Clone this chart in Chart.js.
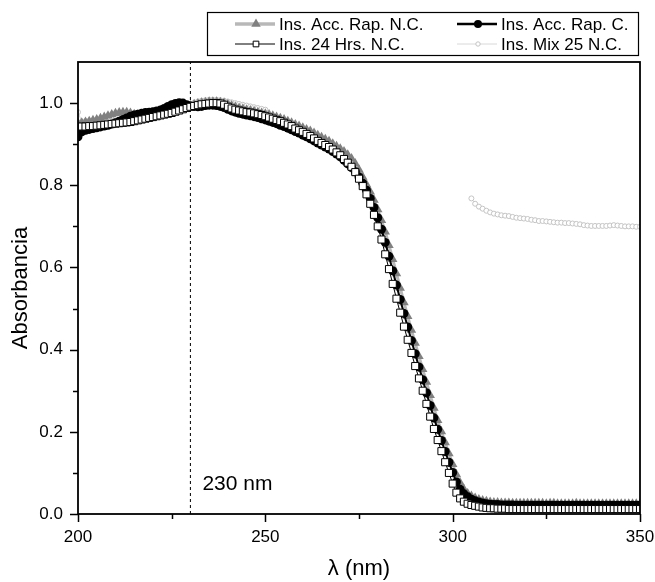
<!DOCTYPE html>
<html>
<head>
<meta charset="utf-8">
<title>Absorbancia</title>
<script src="https://cdn.jsdelivr.net/npm/chart.js@4.4.1/dist/chart.umd.min.js"></script>
<style>
  html, body { margin: 0; padding: 0; background: #fff; }
  #wrap { width: 655px; height: 582px; }
</style>
</head>
<body>
<div id="wrap"><canvas id="chart" width="655" height="582"></canvas></div>
<script>
/* ---- data ---- */
const wavelengths = [
  200,201,202,203,204,205,206,207,208,209,
  210,211,212,213,214,215,216,217,218,219,
  220,221,222,223,224,225,226,227,228,229,
  230,231,232,233,234,235,236,237,238,239,
  240,241,242,243,244,245,246,247,248,249,
  250,251,252,253,254,255,256,257,258,259,
  260,261,262,263,264,265,266,267,268,269,
  270,271,272,273,274,275,276,277,278,279,
  280,281,282,283,284,285,286,287,288,289,
  290,291,292,293,294,295,296,297,298,299,
  300,301,302,303,304,305,306,307,308,309,
  310,311,312,313,314,315,316,317,318,319,
  320,321,322,323,324,325,326,327,328,329,
  330,331,332,333,334,335,336,337,338,339,
  340,341,342,343,344,345,346,347,348,349,
  350
];

// Ins. Acc. Rap. N.C.
const accRapNC = [
  .951,.952,.954,.956,.958,.960,.963,.966,.969,.972,
  .975,.977,.978,.978,.976,.973,.972,.973,.974,.975,
  .976,.977,.978,.979,.980,.981,.983,.985,.988,.991,
  .994,.997,.999,1.001,1.002,1.003,1.003,1.003,1.002,1.000,
  .997,.994,.991,.988,.986,.984,.982,.980,.978,.976,
  .974,.972,.969,.966,.963,.960,.956,.952,.948,.944,
  .940,.936,.932,.927,.922,.917,.912,.907,.901,.895,
  .889,.882,.874,.865,.853,.838,.820,.802,.784,.764,
  .741,.715,.687,.654,.620,.585,.550,.515,.481,.448,
  .416,.384,.352,.321,.289,.258,.228,.201,.174,.147,
  .121,.096,.076,.060,.050,.044,.039,.035,.033,.031,
  .029,.028,.028,.027,.027,.027,.026,.026,.026,.026,
  .026,.026,.026,.026,.026,.025,.026,.026,.025,.025,
  .025,.025,.025,.026,.025,.025,.025,.025,.025,.025,
  .025,.025,.025,.025,.025,.025,.025,.025,.025,.025,
  .025
];

// Ins. Acc. Rap. C.
const accRapC = [
  .918,.930,.934,.936,.938,.940,.942,.944,.946,.949,
  .952,.956,.960,.964,.968,.971,.973,.975,.977,.978,
  .979,.981,.983,.987,.992,.996,.999,1.001,1.000,.996,
  .993,.992,.991,.992,.994,.995,.995,.994,.992,.989,
  .985,.981,.978,.975,.973,.971,.969,.967,.965,.962,
  .959,.956,.953,.950,.946,.943,.939,.935,.931,.927,
  .922,.918,.913,.908,.903,.898,.893,.888,.882,.876,
  .869,.861,.852,.843,.833,.820,.805,.788,.768,.746,
  .721,.693,.661,.627,.592,.557,.522,.488,.455,.422,
  .390,.358,.327,.295,.264,.234,.206,.179,.152,.126,
  .101,.078,.060,.049,.042,.036,.032,.029,.027,.025,
  .024,.023,.023,.022,.022,.022,.022,.021,.021,.021,
  .021,.021,.021,.021,.021,.021,.021,.021,.021,.021,
  .021,.021,.021,.021,.021,.021,.021,.021,.021,.021,
  .021,.021,.021,.021,.021,.021,.021,.021,.021,.021,
  .021
];

// Ins. 24 Hrs. N.C.
const hrs24NC = [
  .942,.943,.943,.944,.944,.945,.946,.947,.948,.949,
  .950,.951,.952,.953,.954,.956,.958,.960,.962,.964,
  .966,.968,.970,.972,.974,.976,.979,.982,.985,.988,
  .991,.993,.995,.997,.998,.999,1.000,1.000,.999,.996,
  .991,.987,.984,.982,.980,.978,.977,.975,.973,.971,
  .968,.965,.962,.959,.956,.952,.948,.944,.938,.934,
  .930,.925,.920,.914,.908,.903,.898,.893,.887,.880,
  .873,.864,.855,.845,.832,.816,.798,.778,.755,.728,
  .700,.668,.632,.596,.560,.524,.490,.456,.424,.392,
  .360,.330,.300,.268,.237,.207,.180,.153,.126,.100,
  .074,.052,.038,.030,.025,.022,.020,.018,.016,.015,
  .014,.014,.013,.013,.013,.012,.012,.012,.012,.012,
  .012,.012,.012,.012,.012,.012,.012,.012,.012,.012,
  .012,.012,.012,.012,.012,.012,.012,.012,.012,.012,
  .012,.012,.012,.012,.012,.012,.012,.012,.012,.012,
  .012
];

// Ins. Mix 25 N.C. (no readings between 251 and 304 nm)
const mix25NC = [
  .978,.955,.956,.957,.958,.959,.960,.962,.964,.966,
  .968,.969,.970,.970,.970,.970,.971,.972,.973,.975,
  .977,.979,.981,.983,.985,.987,.989,.991,.993,.995,
  .998,1.001,1.004,1.006,1.007,1.008,1.008,1.008,1.007,1.006,
  1.004,1.002,1.000,.998,.996,.994,.992,.990,.988,.986,
  .984,null,null,null,null,null,null,null,null,null,
  null,null,null,null,null,null,null,null,null,null,
  null,null,null,null,null,null,null,null,null,null,
  null,null,null,null,null,null,null,null,null,null,
  null,null,null,null,null,null,null,null,null,null,
  null,null,null,null,null,.768,.755,.748,.743,.738,
  .734,.731,.729,.727,.726,.725,.723,.721,.720,.719,
  .718,.716,.715,.713,.713,.712,.711,.710,.709,.709,
  .708,.708,.707,.706,.705,.703,.702,.701,.701,.701,
  .701,.701,.702,.703,.702,.701,.700,.700,.700,.699,
  .699
];

const seriesNames = ['Ins. Acc. Rap. N.C.', 'Ins. Acc. Rap. C.', 'Ins. 24 Hrs. N.C.', 'Ins. Mix 25 N.C.'];

const xTicks = [200, 250, 300, 350];
const xMinorTicks = [225, 275, 325];
const yTicks = [0, 0.2, 0.4, 0.6, 0.8, 1.0];
const yMinorTicks = [0.1, 0.3, 0.5, 0.7, 0.9];

const markerLambda = 230;
const markerLabel = '230 nm';

/* ---- styling ---- */
const FONT = "'Liberation Sans', Arial, Helvetica, sans-serif";
const X_MIN = 200, X_MAX = 350, Y_MIN = 0, Y_MAX = 1.1;

function drawMarker(ctx, style, x, y, r, fill, stroke, lw) {
  ctx.beginPath();
  if (style === 'triangle') {
    ctx.moveTo(x, y - r);
    ctx.lineTo(x + r * 0.866, y + r * 0.5);
    ctx.lineTo(x - r * 0.866, y + r * 0.5);
    ctx.closePath();
  } else if (style === 'rect') {
    const s = r * Math.SQRT1_2;
    ctx.rect(x - s, y - s, 2 * s, 2 * s);
  } else {
    ctx.arc(x, y, r, 0, Math.PI * 2);
  }
  ctx.fillStyle = fill;
  ctx.fill();
  if (lw) {
    ctx.strokeStyle = stroke;
    ctx.lineWidth = lw;
    ctx.stroke();
  }
}

// frame, outward ticks, boxed legend and the 230 nm note
const decorations = {
  id: 'decorations',
  afterDraw(chart) {
    const { ctx, chartArea: area } = chart;
    const xs = chart.scales.x, ys = chart.scales.y;
    ctx.save();

    // annotation text
    ctx.fillStyle = '#000';
    ctx.font = '21px ' + FONT;
    ctx.textAlign = 'left';
    ctx.textBaseline = 'middle';
    ctx.fillText(markerLabel, xs.getPixelForValue(markerLambda) + 12, area.bottom - 30);

    // ticks
    ctx.strokeStyle = '#000';
    ctx.lineWidth = 1.5;
    ctx.beginPath();
    xTicks.forEach(v => { const p = Math.round(xs.getPixelForValue(v)) + 0.5; ctx.moveTo(p, area.bottom); ctx.lineTo(p, area.bottom + 8); });
    xMinorTicks.forEach(v => { const p = Math.round(xs.getPixelForValue(v)) + 0.5; ctx.moveTo(p, area.bottom); ctx.lineTo(p, area.bottom + 5); });
    yTicks.forEach(v => { const p = Math.round(ys.getPixelForValue(v)) + 0.5; ctx.moveTo(area.left, p); ctx.lineTo(area.left - 8, p); });
    yMinorTicks.forEach(v => { const p = Math.round(ys.getPixelForValue(v)) + 0.5; ctx.moveTo(area.left, p); ctx.lineTo(area.left - 5, p); });
    ctx.stroke();

    // frame
    ctx.lineWidth = 1.8;
    ctx.strokeRect(area.left, area.top, area.right - area.left, area.bottom - area.top);

    // legend box
    const box = { x: 207, y: 12, w: 431, h: 43 };
    ctx.fillStyle = '#fff';
    ctx.fillRect(box.x, box.y, box.w, box.h);
    ctx.lineWidth = 1.2;
    ctx.strokeStyle = '#000';
    ctx.strokeRect(box.x + 0.5, box.y + 0.5, box.w, box.h);

    const cols = [235, 457];
    const rows = [24, 44];
    chart.data.datasets.forEach(ds => {
      if (ds.legendSlot === undefined) return;
      const cx = cols[ds.legendSlot % 2];
      const cy = rows[Math.floor(ds.legendSlot / 2)];
      const lg = ds.legendStyle;
      ctx.beginPath();
      ctx.strokeStyle = lg.line;
      ctx.lineWidth = lg.lineWidth;
      ctx.moveTo(cx, cy);
      ctx.lineTo(cx + 40, cy);
      ctx.stroke();
      drawMarker(ctx, ds.pointStyle, cx + 21, cy, lg.r, ds.pointBackgroundColor, ds.pointBorderColor, ds.pointBorderWidth);
      ctx.fillStyle = '#000';
      ctx.font = '17px ' + FONT;
      ctx.textAlign = 'left';
      ctx.textBaseline = 'middle';
      ctx.fillText(ds.label, cx + 44, cy + 1);
    });

    ctx.restore();
  }
};

new Chart(document.getElementById('chart'), {
  type: 'line',
  data: {
    labels: wavelengths,
    datasets: [
      {
        label: seriesNames[0],
        data: accRapNC,
        borderColor: '#b8b8b8',
        borderWidth: 3,
        pointStyle: 'triangle',
        pointRadius: 5.5,
        pointBackgroundColor: '#808080',
        pointBorderColor: '#808080',
        pointBorderWidth: 0,
        order: 3,
        legendSlot: 0,
        legendStyle: { line: '#b8b8b8', lineWidth: 3.5, r: 5.5 }
      },
      {
        label: seriesNames[1],
        data: accRapC,
        borderColor: '#000',
        borderWidth: 2,
        pointStyle: 'circle',
        pointRadius: 4.5,
        pointBackgroundColor: '#000',
        pointBorderColor: '#000',
        pointBorderWidth: 0,
        order: 2,
        legendSlot: 1,
        legendStyle: { line: '#000', lineWidth: 2.5, r: 4 }
      },
      {
        label: seriesNames[2],
        data: hrs24NC,
        borderColor: '#000',
        borderWidth: 1,
        pointStyle: 'rect',
        pointRadius: 5,
        pointBackgroundColor: '#fff',
        pointBorderColor: '#000',
        pointBorderWidth: 1,
        order: 1,
        legendSlot: 2,
        legendStyle: { line: '#000', lineWidth: 1, r: 4 }
      },
      {
        label: seriesNames[3],
        data: mix25NC,
        borderColor: '#d4d4d4',
        borderWidth: 1,
        pointStyle: 'circle',
        pointRadius: 2.5,
        pointBackgroundColor: '#fff',
        pointBorderColor: '#c4c4c4',
        pointBorderWidth: 1,
        spanGaps: false,
        order: 4,
        legendSlot: 3,
        legendStyle: { line: '#d8d8d8', lineWidth: 1, r: 2.2 }
      },
      {
        label: 'marker',
        data: [{ x: markerLambda, y: Y_MIN }, { x: markerLambda, y: Y_MAX }],
        borderColor: '#000',
        borderWidth: 1,
        borderDash: [3, 3],
        pointRadius: 0,
        order: 5
      }
    ]
  },
  options: {
    responsive: false,
    animation: false,
    events: [],
    layout: { padding: { left: 0, top: 62, right: 15, bottom: 0 } },
    elements: { line: { tension: 0 } },
    plugins: { legend: { display: false }, tooltip: { enabled: false } },
    scales: {
      x: {
        type: 'linear',
        min: X_MIN,
        max: X_MAX,
        afterBuildTicks: s => { s.ticks = xTicks.map(v => ({ value: v })); },
        afterFit: s => { s.height = 68; s.paddingLeft = 0; s.paddingRight = 0; },
        grid: { display: false, drawTicks: false },
        border: { display: false },
        ticks: { color: '#000', font: { family: FONT, size: 17 }, padding: 13, maxRotation: 0 },
        title: { display: true, text: 'λ (nm)', color: '#000', font: { family: FONT, size: 22 }, padding: { top: 0, bottom: 0 } }
      },
      y: {
        type: 'linear',
        min: Y_MIN,
        max: Y_MAX,
        afterBuildTicks: s => { s.ticks = yTicks.map(v => ({ value: v })); },
        afterFit: s => { s.width = 78; s.paddingTop = 0; s.paddingBottom = 0; },
        grid: { display: false, drawTicks: false },
        border: { display: false },
        ticks: { color: '#000', font: { family: FONT, size: 17 }, padding: 15, callback: v => v.toFixed(1) },
        title: { display: true, text: 'Absorbancia', color: '#000', font: { family: FONT, size: 22 }, padding: { top: 8, bottom: 0 } }
      }
    }
  },
  plugins: [decorations]
});
</script>
</body>
</html>
